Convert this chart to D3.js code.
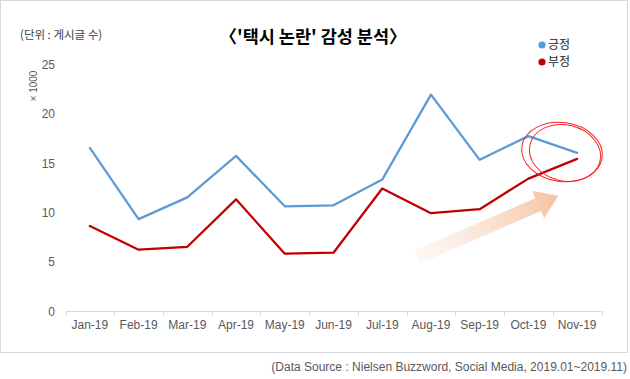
<!DOCTYPE html>
<html>
<head>
<meta charset="utf-8">
<script src="https://cdn.jsdelivr.net/npm/d3@7"></script>
<style>
  html, body { margin: 0; padding: 0; background: #fff; }
  svg { display: block; }
</style>
</head>
<body>
<svg id="chart" width="630" height="379"></svg>
<script>
const months = ["Jan-19","Feb-19","Mar-19","Apr-19","May-19","Jun-19","Jul-19","Aug-19","Sep-19","Oct-19","Nov-19"];
const positive = [16.5, 9.3, 11.5, 15.7, 10.6, 10.7, 13.3, 21.9, 15.3, 17.7, 16.0];
const negative = [8.6, 6.2, 6.5, 11.3, 5.8, 5.9, 12.4, 9.9, 10.3, 13.4, 15.4];
const yTicks = [0, 5, 10, 15, 20, 25];
const seriesNames = ["긍정", "부정"];
const seriesColors = ["#5b9bd5", "#c00000"];
const titleText = "〈'택시 논란' 감성 분석〉";
const unitText = "(단위 : 게시글 수)";
const scaleText = "× 1000";
const sourceText = "(Data Source : Nielsen  Buzzword, Social Media,  2019.01~2019.11)";

const svg = d3.select("#chart");
const latin = "'Liberation Sans', Arial, 'Noto Sans CJK KR', sans-serif";
const kr = "'Noto Sans CJK KR', 'Liberation Sans', sans-serif";

// outer border
svg.append("rect").attr("x", 0.5).attr("y", 0.5).attr("width", 627).attr("height", 352)
  .attr("fill", "#fff").attr("stroke", "#d9d9d9").attr("stroke-width", 1);

const x = d3.scaleBand().domain(months).range([65.5, 601.5]).paddingInner(0).paddingOuter(0);
const y = d3.scaleLinear().domain([0, 25]).range([311, 64]);

// y axis labels
const yAxis = d3.axisLeft(y).tickValues(yTicks).tickSize(0).tickPadding(0);
const gy = svg.append("g").attr("transform", "translate(55,0)").call(yAxis);
gy.select(".domain").remove();
gy.selectAll("text").attr("font-family", latin).attr("font-size", 12).attr("fill", "#595959").attr("dy", "0.35em");

// x axis
const xAxis = d3.axisBottom(x).tickSize(0).tickPadding(9);
const gx = svg.append("g").attr("transform", "translate(0,311)").call(xAxis);
gx.select(".domain").attr("stroke", "#d9d9d9").attr("d", `M${x.range()[0]},0.5H${x.range()[1]}`);
gx.selectAll("text").attr("font-family", latin).attr("font-size", 12).attr("fill", "#595959");
// tick marks at category boundaries
const edges = months.map(m => x(m)).concat([x.range()[1]]);
gx.selectAll("line.edge").data(edges).enter().append("line")
  .attr("class", "edge")
  .attr("x1", d => Math.round(d) + 0.5).attr("x2", d => Math.round(d) + 0.5)
  .attr("y1", 0).attr("y2", 5).attr("stroke", "#d9d9d9");

// lines
const cx = m => x(m) + x.bandwidth() / 2;
const line = d3.line().x((d, i) => cx(months[i])).y(d => y(d));
[positive, negative].forEach((s, k) => {
  svg.append("path").datum(s).attr("d", line).attr("fill", "none")
    .attr("stroke", seriesColors[k]).attr("stroke-width", 2.25)
    .attr("stroke-linejoin", "round").attr("stroke-linecap", "round");
});

// gradient arrow
const defs = svg.append("defs");
const grad = defs.append("linearGradient").attr("id", "arrowGrad")
  .attr("x1", "0%").attr("x2", "100%").attr("y1", "0%").attr("y2", "0%");
grad.append("stop").attr("offset", "0%").attr("stop-color", "#fbe6d8").attr("stop-opacity", 0.3);
grad.append("stop").attr("offset", "100%").attr("stop-color", "#f4c29f");
const L = 154, sw = 14, hw = 30, hl = 22;
svg.append("path")
  .attr("transform", "translate(417,257) rotate(-23.4)")
  .attr("d", `M0,${-sw/2}L${L-hl},${-sw/2}L${L-hl},${-hw/2}L${L},0L${L-hl},${hw/2}L${L-hl},${sw/2}L0,${sw/2}Z`)
  .attr("fill", "url(#arrowGrad)");

// hand-drawn ellipses
svg.append("ellipse").attr("cx", 562).attr("cy", 152).attr("rx", 40.5).attr("ry", 29.5)
  .attr("transform", "rotate(8,562,152)").attr("fill", "none").attr("stroke", "#ff2020").attr("stroke-width", 1);
svg.append("ellipse").attr("cx", 565).attr("cy", 153).attr("rx", 36).attr("ry", 28)
  .attr("transform", "rotate(14,565,153)").attr("fill", "none").attr("stroke", "#ff2020").attr("stroke-width", 1);

// title
svg.append("text").attr("x", 313).attr("y", 43).attr("text-anchor", "middle")
  .attr("font-family", kr).attr("font-size", 17.5).attr("font-weight", "bold").attr("fill", "#000")
  .text(titleText);

// unit label
svg.append("text").attr("x", 20).attr("y", 39)
  .attr("font-family", kr).attr("font-size", 11.5).attr("fill", "#404040").text(unitText);

// x1000
svg.append("text").attr("transform", "translate(37,86) rotate(-90)").attr("text-anchor", "middle")
  .attr("font-family", latin).attr("font-size", 10).attr("fill", "#595959").text(scaleText);

// legend
seriesNames.forEach((n, k) => {
  const ly = 45 + k * 17;
  svg.append("circle").attr("cx", 542).attr("cy", ly).attr("r", 3.6).attr("fill", seriesColors[k]);
  svg.append("text").attr("x", 548).attr("y", ly).attr("dy", "0.35em")
    .attr("font-family", kr).attr("font-size", 12).attr("fill", "#262626").text(n);
});

// source
svg.append("text").attr("x", 627).attr("y", 371).attr("text-anchor", "end")
  .attr("font-family", latin).attr("font-size", 12).attr("fill", "#595959").text(sourceText);
</script>
</body>
</html>
